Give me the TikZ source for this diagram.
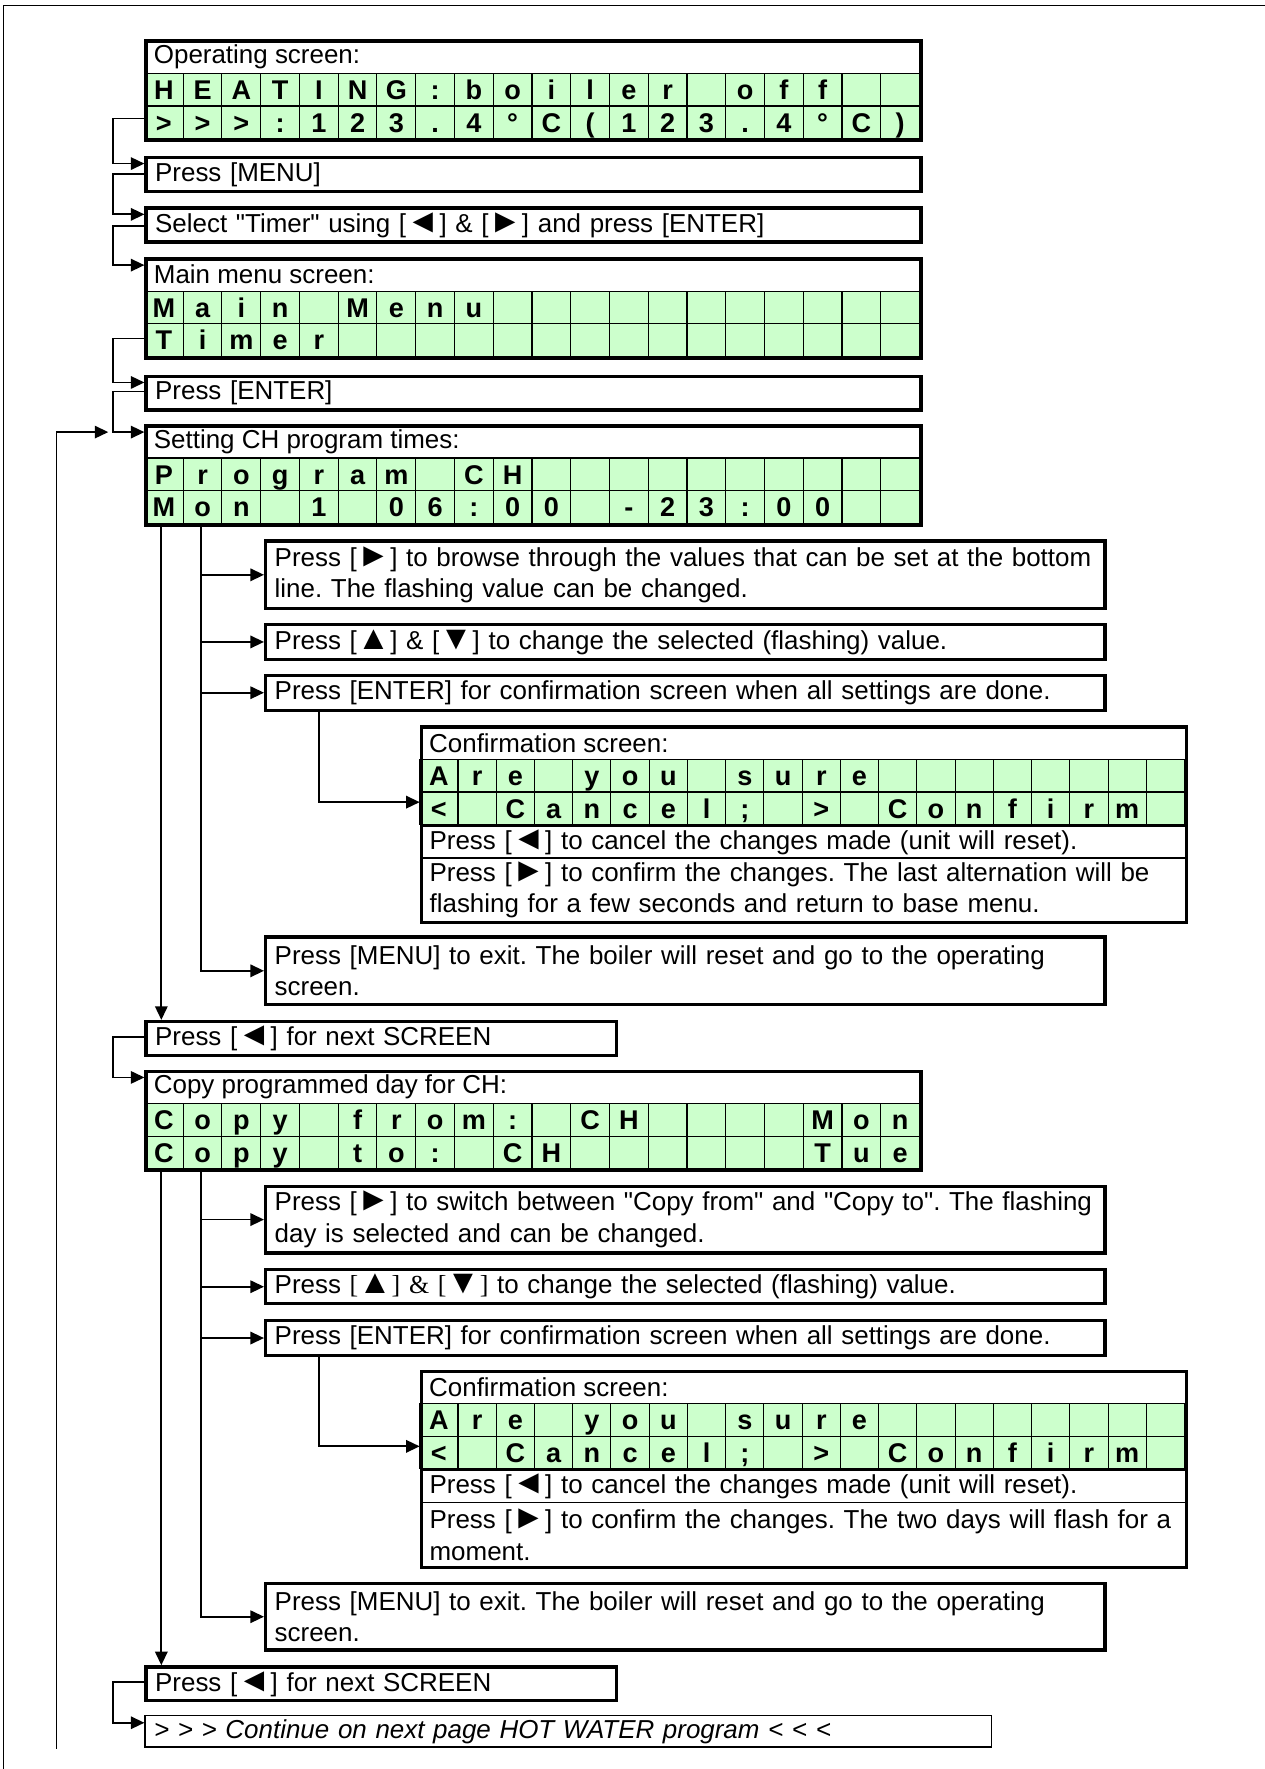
\documentclass[tikz,border=0pt]{standalone}
\usepackage{fontspec}
\setmainfont{Liberation Sans}
\newfontfamily\serfont{Liberation Serif}
\usepackage{tikz}
\usetikzlibrary{arrows.meta,positioning,calc}
\definecolor{lcdgreen}{RGB}{204,255,204}
\newcommand{\txt}{\fontsize{11.5}{14}\selectfont}
\newcommand{\q}{\textquotedbl}
\newcommand{\tri}[1]{\scalebox{1.3}{#1}}
\newcommand{\trl}{\tri{◄}}
\newcommand{\trr}{\tri{►}}
\newcommand{\tru}{\tri{▲}}
\newcommand{\trd}{\tri{▼}}
\frenchspacing
\tikzset{msg/.style={draw,line width=1.5pt,fill=white,anchor=north west,align=left,inner xsep=4pt,inner ysep=0pt,font=\txt},msgwide/.style={msg,text width=335.5pt,minimum height=15pt},msgsub/.style={msg,text width=364pt},msgshort/.style={msg,text width=200.5pt,minimum height=15pt},msgcont/.style={draw,line width=0.6pt,anchor=north west,align=left,inner xsep=4pt,inner ysep=0pt,text width=367pt,minimum height=14pt,font=\txt\itshape},lcdframe/.style={draw,line width=1.5pt,anchor=north west,inner sep=0pt},lcdtitle/.style={anchor=west,inner xsep=4pt,inner ysep=0pt,font=\txt},lcdrow/.style={draw,line width=0.8pt,anchor=north west,align=left,inner xsep=4pt,inner ysep=0pt,text width=331pt,font=\txt},lcdcell/.style={draw,line width=0.5pt,fill=lcdgreen,inner sep=0pt,minimum height=14.5pt,text height=8.6pt,text depth=0pt,font=\fontsize{12}{14}\selectfont\bfseries},flow/.style={-{Triangle[length=6pt,width=5.5pt]},line width=0.8pt}}
\newcommand{\lcdline}[5]{\foreach \ch [count=\k from 0] in {#5}{\node[lcdcell,minimum width=#4*0.5pt] (#1-\k) at ({#2+(\k+0.5)*#4},{#3+14.5}) {\ch};}}
\newcommand{\lcd}[7]{\node[lcdtitle] (#1-t) at (#2,#3+15.5) {#5};
\lcdline{#1-a}{#2}{#3+30}{#4}{#6}
\lcdline{#1-b}{#2}{#3+59}{#4}{#7}}

\begin{document}
\begin{tikzpicture}[x=0.5pt,y=-0.5pt]
\useasboundingbox (0,0) rectangle (1121,1568);
\draw[line width=0.5pt] (3,1568) -- (3,5) -- (1121,5);
\lcd{op}{128}{35}{34.35}{Operating screen:}{H,E,A,T,I,N,G,:,b,o,i,l,e,r,{},o,f,f,{},{}}{>,>,>,:,1,2,3,.,4,°,C,{(},1,2,3,.,4,°,C,{)}}
\node[lcdframe,minimum width=343.5pt,minimum height=44pt] (opscr) at (128,35) {};
\node[msgwide] (menu) at (128,138) {Press [MENU]};
\node[msgwide] (select) at (128,183) {Select \q Timer\q{} using [\trl] \& [\trr] and press [ENTER]};
\lcd{mm}{128}{228}{34.35}{Main menu screen:}{M,a,i,n,{},M,e,n,u,{},{},{},{},{},{},{},{},{},{},{}}{T,i,m,e,r,{},{},{},{},{},{},{},{},{},{},{},{},{},{},{}}
\node[lcdframe,minimum width=343.5pt,minimum height=44pt] (mmscr) at (128,228) {};
\node[msgwide] (enter) at (128,332) {Press [ENTER]};
\lcd{ch}{128}{376}{34.35}{Setting CH program times:}{P,r,o,g,r,a,m,{},C,H,{},{},{},{},{},{},{},{},{},{}}{M,o,n,{},1,{},0,6,:,0,0,{},-,2,3,:,0,0,{},{}}
\node[lcdframe,minimum width=343.5pt,minimum height=44pt] (chscr) at (128,376) {};
\node[msgsub,minimum height=30pt] (browse) at (234,478) {Press [\trr] to browse through the values that can be set at the bottom\\line. The flashing value can be changed.};
\node[msgsub,minimum height=15.5pt] (chval) at (234,552) {Press [\tru] \& [\trd] to change the selected (flashing) value.};
\node[msgsub,minimum height=15.5pt] (chok) at (234,597) {Press [ENTER] for confirmation screen when all settings are done.};
\lcd{cfa}{372}{643}{33.9}{Confirmation screen:}{A,r,e,{},y,o,u,{},s,u,r,e,{},{},{},{},{},{},{},{}}{<,{},C,a,n,c,e,l,;,{},>,{},C,o,n,f,i,r,m,{}}
\node[lcdrow,minimum height=14.5pt] (cfa-c) at (372,731) {Press [\trl] to cancel the changes made (unit will reset).};
\node[lcdrow,minimum height=28pt] (cfa-k) at (372,760) {Press [\trr] to confirm the changes. The last alternation will be\\flashing for a few seconds and return to base menu.};
\node[lcdframe,minimum width=339pt,minimum height=86.5pt] (cfascr) at (372,643) {};
\node[msgsub,minimum height=30pt] (chexit) at (234,829) {Press [MENU] to exit. The boiler will reset and go to the operating\\screen.};
\node[msgshort] (next) at (128,904) {Press [\trl] for next SCREEN};
\lcd{cp}{128}{948}{34.35}{Copy programmed day for CH:}{C,o,p,y,{},f,r,o,m,:,{},C,H,{},{},{},{},M,o,n}{C,o,p,y,{},t,o,:,{},C,H,{},{},{},{},{},{},T,u,e}
\node[lcdframe,minimum width=343.5pt,minimum height=44pt] (cpscr) at (128,948) {};
\node[msgsub,minimum height=29.5pt] (swap) at (234,1050) {Press [\trr] to switch between \q Copy from\q{} and \q Copy to\q. The flashing\\day is selected and can be changed.};
\node[msgsub,minimum height=15pt] (cpval) at (234,1124) {Press {\serfont[\tru] \& [\trd]} to change the selected (flashing) value.};
\node[msgsub,minimum height=15.5pt] (cpok) at (234,1169) {Press [ENTER] for confirmation screen when all settings are done.};
\lcd{cfb}{372}{1214}{33.9}{Confirmation screen:}{A,r,e,{},y,o,u,{},s,u,r,e,{},{},{},{},{},{},{},{}}{<,{},C,a,n,c,e,l,;,{},>,{},C,o,n,f,i,r,m,{}}
\node[lcdrow,minimum height=14.5pt] (cfb-c) at (372,1302) {Press [\trl] to cancel the changes made (unit will reset).};
\node[lcdrow,minimum height=28.5pt] (cfb-k) at (372,1331) {Press [\trr] to confirm the changes. The two days will flash for a\\moment.};
\node[lcdframe,minimum width=339pt,minimum height=87pt] (cfbscr) at (372,1214) {};
\node[msgsub,minimum height=29.5pt] (cpexit) at (234,1402) {Press [MENU] to exit. The boiler will reset and go to the operating\\screen.};
\node[msgshort] (next2) at (128,1476) {Press [\trl] for next SCREEN};
\node[msgcont] (goon) at (128,1520) {> > > Continue on next page HOT WATER program < < <};
\coordinate (loopfoot) at (50,1550);
\draw[flow] ([yshift=-35pt]opscr.north west) -- ++(-28,0) |- ([yshift=-3.5pt]menu.north west);
\draw[flow] ([yshift=-8pt]menu.north west) -- ++(-28,0) |- ([yshift=-3.5pt]select.north west);
\draw[flow] ([yshift=-8.5pt]select.north west) -- ++(-28,0) |- ([yshift=-3.5pt]mmscr.north west);
\draw[flow] ([yshift=-36pt]mmscr.north west) -- ++(-28,0) |- ([yshift=-3.5pt]enter.north west);
\draw[flow] ([yshift=-7.5pt]enter.north west) -- ++(-28,0) |- ([yshift=-3.5pt]chscr.north west);
\draw[flow] (loopfoot) |- ([xshift=-16pt,yshift=-3.5pt]chscr.north west);
\foreach \t in {browse,chval,chok,chexit} \draw[flow] ([xshift=25pt]chscr.south west) |- (\t.west);
\draw[flow] ([xshift=7.5pt]chscr.south west) -- ([xshift=7.5pt]next.north west);
\draw[flow] ([xshift=24.5pt]chok.south west) |- ([yshift=-34pt]cfascr.north west);
\draw[flow] ([yshift=-7.5pt]next.north west) -- ++(-28,0) |- ([yshift=-3.5pt]cpscr.north west);
\foreach \t in {swap,cpval,cpok,cpexit} \draw[flow] ([xshift=25pt]cpscr.south west) |- (\t.west);
\draw[flow] ([xshift=7.5pt]cpscr.south west) -- ([xshift=7.5pt]next2.north west);
\draw[flow] ([xshift=24.5pt]cpok.south west) |- ([yshift=-34pt]cfbscr.north west);
\draw[flow] ([yshift=-7.5pt]next2.north west) -- ++(-28,0) |- ([yshift=-3.5pt]goon.north west);
\end{tikzpicture}
\end{document}
